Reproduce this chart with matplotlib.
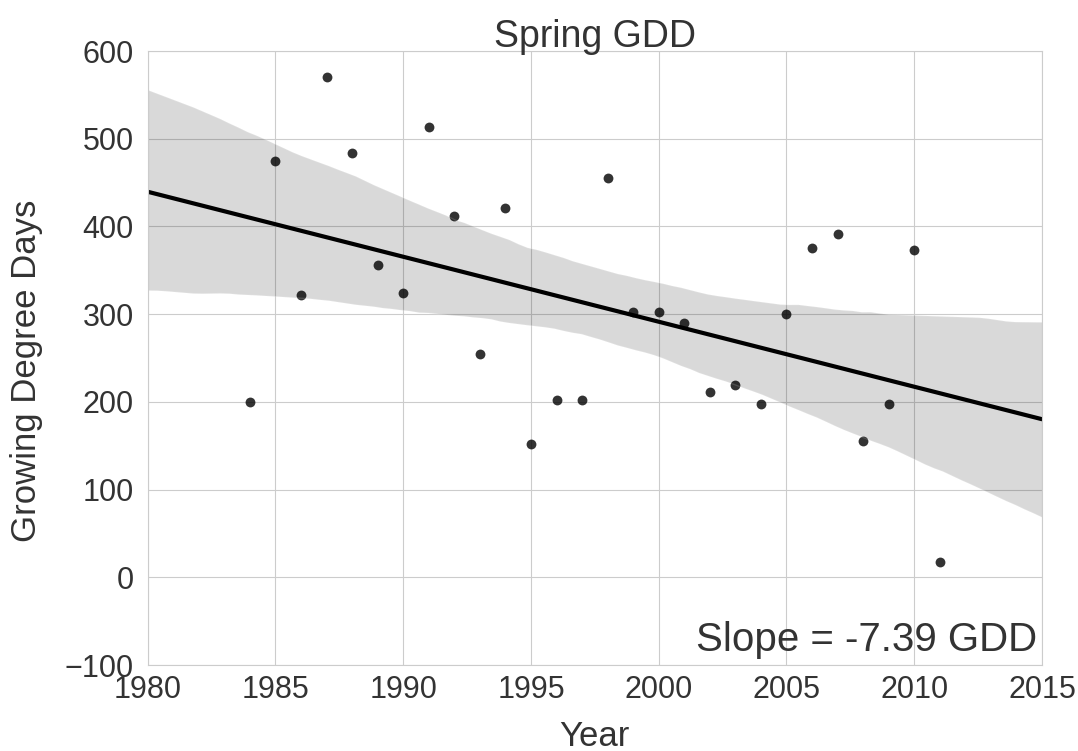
import matplotlib
matplotlib.use("Agg")
import matplotlib.pyplot as plt
import seaborn as sns
import numpy as np

# Spring growing degree days per year
years = [1984, 1985, 1986, 1987, 1988, 1989, 1990, 1991, 1992, 1993,
         1994, 1995, 1996, 1997, 1998, 1999, 2000, 2001, 2002, 2003,
         2004, 2005, 2006, 2007, 2008, 2009, 2010, 2011]
gdd = [200, 475, 322, 571, 484, 356, 324, 513, 412, 255,
       421, 152, 202, 202, 455, 303, 303, 290, 211, 219,
       198, 300, 375, 391, 155, 198, 373, 18]
slope_label = -7.39

x_ticks = [1980, 1985, 1990, 1995, 2000, 2005, 2010, 2015]
y_ticks = [-100, 0, 100, 200, 300, 400, 500, 600]

sns.set_style("whitegrid", {"grid.color": ".8", "axes.edgecolor": ".8"})
plt.rcParams['font.family'] = ['Liberation Sans', 'DejaVu Sans']

fig = plt.figure(figsize=(10.78, 7.51), dpi=100)
ax = fig.add_axes([0.137, 0.1145, 0.8296, 0.8175])
ax.set_xlim(1980, 2015)
ax.set_ylim(-100, 600)

x = np.array(years, dtype=float)
y = np.array(gdd, dtype=float)
sns.regplot(x=x, y=y, ax=ax, color="k", truncate=False, seed=7,
            scatter_kws={"s": 50, "linewidths": 0},
            line_kws={"lw": 3})

ax.set_xlim(1980, 2015)
ax.set_ylim(-100, 600)
ax.set_xticks(x_ticks)
ax.set_yticks(y_ticks)
ax.tick_params(labelsize=22, colors="#333333", length=0)
ax.tick_params(axis="y", pad=10)
ax.tick_params(axis="x", pad=7)

ax.set_title("Spring GDD", fontsize=27, color="#333333", pad=3)
ax.set_xlabel("Year", fontsize=25, color="#333333", labelpad=11)
ax.set_ylabel("Growing Degree Days", fontsize=25, color="#333333")
ax.yaxis.set_label_coords(-0.117, 0.48)

ax.text(0.995, 0.01, "Slope = %.2f GDD" % slope_label,
        transform=ax.transAxes, ha="right", va="bottom", fontsize=29,
        color="#333333")

fig.savefig("out.png", dpi=100)
